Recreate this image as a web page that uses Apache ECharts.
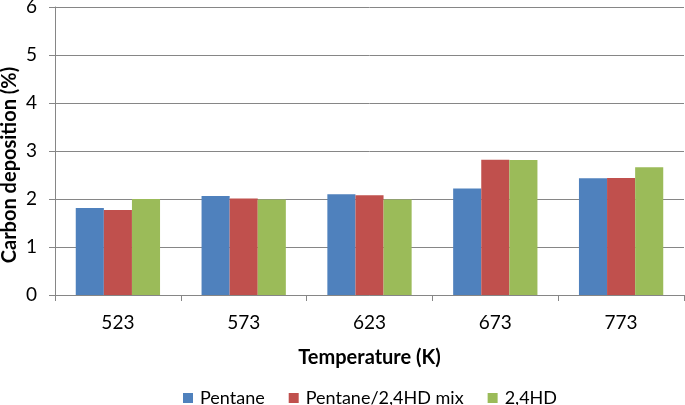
<!DOCTYPE html>
<html>
<head>
<meta charset="utf-8">
<script src="https://cdn.jsdelivr.net/npm/echarts@6/dist/echarts.min.js"></script>
<style>
html,body{margin:0;padding:0;background:#fff;}
#chart{width:685px;height:405px;}
</style>
</head>
<body>
<div id="chart"></div>
<script>
const categories = ['523', '573', '623', '673', '773'];
const pentane = [1.81, 2.06, 2.10, 2.22, 2.43];
const pentaneMix = [1.77, 2.01, 2.08, 2.82, 2.44];
const hd24 = [2.00, 1.99, 1.99, 2.81, 2.66];
const seriesNames = ['Pentane', 'Pentane/2,4HD mix', '2,4HD'];
const yTicks = [0, 1, 2, 3, 4, 5, 6];
const yTitle = 'Carbon deposition (%)';
const xTitle = 'Temperature (K)';

const FONT = 'Lato';
const chart = echarts.init(document.getElementById('chart'), null, {renderer: 'canvas'});
const colors = ['#4F81BD', '#C0504D', '#9BBB59'];
const mk = (name, data, i) => ({
  name: name,
  type: 'bar',
  data: data,
  barGap: '0%',
  barCategoryGap: '33%',
  itemStyle: {color: colors[i]},
  animation: false
});
chart.setOption({
  animation: false,
  color: colors,
  grid: {left: 55, right: 1, top: 7, bottom: 110, containLabel: false, outerBoundsMode: 'none'},
  legend: {
    data: seriesNames,
    left: 178, top: 384,
    itemWidth: 10, itemHeight: 10, itemGap: 24,
    icon: 'rect',
    textStyle: {fontFamily: FONT, fontSize: 18, color: '#000', padding: [0, 0, 0, 2]}
  },
  graphic: [{
    type: 'text',
    x: 10, y: 165,
    rotation: Math.PI / 2,
    style: {text: yTitle, fontFamily: FONT, fontSize: 20, fontWeight: 'bold', fill: '#000',
      align: 'center', verticalAlign: 'middle'}
  }],
  xAxis: {
    type: 'category',
    data: categories,
    name: xTitle,
    nameLocation: 'middle',
    nameGap: 53,
    nameTextStyle: {fontFamily: FONT, fontSize: 20, fontWeight: 'bold', color: '#000'},
    axisLine: {lineStyle: {color: '#868686', width: 1}},
    axisTick: {show: true, length: 6, lineStyle: {color: '#868686'}},
    axisLabel: {fontFamily: FONT, fontSize: 19, color: '#000', margin: 18}
  },
  yAxis: {
    type: 'value',
    min: 0, max: 6, interval: 1,
    axisLine: {show: true, lineStyle: {color: '#868686', width: 1}},
    axisTick: {show: true, length: 6, lineStyle: {color: '#868686'}},
    axisLabel: {fontFamily: FONT, fontSize: 19, color: '#000', margin: 18,
      formatter: v => yTicks.includes(v) ? String(v) : ''},
    splitLine: {show: true, lineStyle: {color: '#868686', width: 1}}
  },
  series: [mk(seriesNames[0], pentane, 0), mk(seriesNames[1], pentaneMix, 1), mk(seriesNames[2], hd24, 2)]
});
</script>
</body>
</html>
